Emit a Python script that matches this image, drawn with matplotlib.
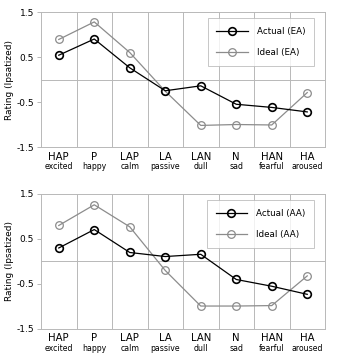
import numpy as np
import matplotlib.pyplot as plt

codes = ['HAP', 'P', 'LAP', 'LA', 'LAN', 'N', 'HAN', 'HA']
words = ['excited', 'happy', 'calm', 'passive', 'dull', 'sad', 'fearful', 'aroused']

actual_ea = [0.54, 0.90, 0.26, -0.25, -0.14, -0.55, -0.62, -0.72]
ideal_ea = [0.89, 1.28, 0.60, -0.26, -1.02, -1.00, -1.01, -0.29]
actual_aa = [0.30, 0.71, 0.20, 0.11, 0.16, -0.40, -0.55, -0.73]
ideal_aa = [0.80, 1.26, 0.77, -0.20, -0.99, -0.99, -0.98, -0.32]

panels = [(actual_ea, ideal_ea, 'EA'), (actual_aa, ideal_aa, 'AA')]

fig = plt.figure(figsize=(3.37, 3.63), dpi=100)
grid_col = '#b8b8b8'
x = np.arange(len(codes))

for i, (act, ide, tag) in enumerate(panels):
    ax = fig.add_axes([0.1217, 0.595 - i * 0.5013, 0.8427, 0.3719])
    ax.set_xlim(-0.5, 7.5)
    ax.set_ylim(-1.5, 1.5)
    for xs in np.arange(0.5, 7.5, 1):
        ax.axvline(xs, color=grid_col, lw=0.7, zorder=0)
    ax.axhline(0, color=grid_col, lw=0.7, zorder=0)
    for s in ax.spines.values():
        s.set_color(grid_col)
        s.set_linewidth(0.7)

    ax.plot(x, act, color='black', lw=0.9, marker='o', ms=5.5,
            mfc='none', mec='black', mew=1.2, label=f'Actual ({tag})', zorder=3)
    ax.plot(x, ide, color='#8c8c8c', lw=0.9, marker='o', ms=5.5,
            mfc='none', mec='#8c8c8c', mew=0.9, label=f'Ideal ({tag})', zorder=2)

    ax.set_yticks([-1.5, -0.5, 0.5, 1.5])
    ax.set_yticklabels(['-1.5', '-0.5', '0.5', '1.5'], fontsize=6.5)
    ax.tick_params(axis='y', length=3, width=0.7, color=grid_col, pad=2)
    ax.set_xticks(x)
    ax.set_xticklabels([])
    ax.tick_params(axis='x', length=0)
    ax.set_ylabel('Rating (Ipsatized)', fontsize=6.5, labelpad=2)

    for xi, c, w in zip(x, codes, words):
        ax.text(xi, -1.6, c, ha='center', va='top', fontsize=7.3)
        ax.text(xi, -1.83, w, ha='center', va='top', fontsize=5.6)

    leg = ax.legend(loc='upper right', bbox_to_anchor=(0.961, 0.956), fontsize=6.3,
                    frameon=True, fancybox=False, handlelength=3.6,
                    borderpad=1.0, labelspacing=1.4, handletextpad=1.0,
                    borderaxespad=0)
    leg.get_frame().set_edgecolor(grid_col)
    leg.get_frame().set_linewidth(0.7)

plt.savefig('out.png', dpi=100)
